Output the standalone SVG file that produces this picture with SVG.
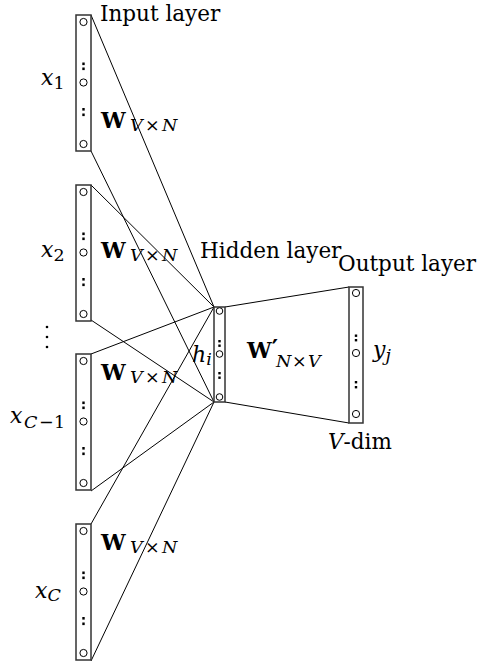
<svg xmlns="http://www.w3.org/2000/svg" width="486" height="664" viewBox="0 0 486 664" font-family="'DejaVu Serif', serif">
<style>
.box{fill:#fff;stroke:#333;stroke-width:1.5}
.c{fill:#fff;stroke:#000;stroke-width:1}
.d{fill:#000}
.ln{stroke:#000;stroke-width:1;fill:none}
text{font-family:"DejaVu Serif","Liberation Serif",serif;fill:#000}
.lab{font-size:21.5px}
.it{font-style:italic}
.W{font-size:22px;font-weight:bold}
.sub{font-size:17.5px}
.m{font-size:22px;font-style:italic}
</style>
<defs>
<g id="vec">
<rect class="box" x="0" y="0" width="15" height="136"/>
<circle class="c" cx="7.5" cy="7" r="3.6"/>
<circle class="c" cx="7.5" cy="67.5" r="3.6"/>
<circle class="c" cx="7.5" cy="129" r="3.6"/>
<rect class="d" x="6.3" y="47.5" width="2.4" height="2.6"/>
<rect class="d" x="6.3" y="52.5" width="2.4" height="2.6"/>
<rect class="d" x="6.3" y="93" width="2.4" height="2.6"/>
<rect class="d" x="6.3" y="98.5" width="2.4" height="2.6"/>
</g>
<g id="wvn">
<text class="W" x="0" y="0">W</text>
<text class="sub" y="3"><tspan class="it" x="29">V</tspan><tspan x="44">×</tspan><tspan class="it" x="61">N</tspan></text>
</g>
</defs>

<g id="connectors">
<line class="ln" x1="91" y1="15" x2="214" y2="307"/>
<line class="ln" x1="91" y1="151" x2="214" y2="402"/>
<line class="ln" x1="91" y1="185" x2="214" y2="307"/>
<line class="ln" x1="91" y1="320" x2="214" y2="402"/>
<line class="ln" x1="91" y1="354" x2="214" y2="307"/>
<line class="ln" x1="91" y1="491" x2="214" y2="402"/>
<line class="ln" x1="91" y1="524" x2="214" y2="307"/>
<line class="ln" x1="91" y1="661" x2="214" y2="402"/>
<line class="ln" x1="225" y1="307" x2="349" y2="287"/>
<line class="ln" x1="225" y1="402" x2="349" y2="423"/>
</g>

<g id="input1">
<use href="#vec" x="76" y="15"/>
<text x="41" y="85"><tspan class="m">x</tspan><tspan class="sub" dy="4">1</tspan></text>
<use href="#wvn" x="101" y="128"/>
<text class="lab" x="100" y="21">Input layer</text>
</g>

<g id="input2">
<use href="#vec" x="76" y="185"/>
<text x="41" y="257"><tspan class="m">x</tspan><tspan class="sub" dy="4">2</tspan></text>
<use href="#wvn" x="101" y="258"/>
</g>

<g id="ellipsis">
<circle class="d" cx="47" cy="327" r="1.3"/>
<circle class="d" cx="47" cy="337" r="1.3"/>
<circle class="d" cx="47" cy="347" r="1.3"/>
</g>

<g id="input3">
<use href="#vec" x="76" y="354"/>
<text x="10" y="423"><tspan class="m">x</tspan><tspan class="sub it" dy="5" x="24">C</tspan><tspan class="sub" x="39">−</tspan><tspan class="sub" x="54">1</tspan></text>
<use href="#wvn" x="101" y="380"/>
</g>

<g id="input4">
<use href="#vec" x="76" y="524"/>
<text x="35" y="598"><tspan class="m">x</tspan><tspan class="sub it" dy="3">C</tspan></text>
<use href="#wvn" x="101" y="550"/>
</g>

<g id="hidden">
<rect class="box" x="214" y="307" width="11" height="95"/>
<circle class="c" cx="219.5" cy="311" r="3.3"/>
<circle class="c" cx="219.5" cy="354" r="3.3"/>
<circle class="c" cx="219.5" cy="397" r="3.3"/>
<rect class="d" x="218.3" y="340" width="2.4" height="2.4"/>
<rect class="d" x="218.3" y="344.5" width="2.4" height="2.4"/>
<rect class="d" x="218.3" y="372" width="2.4" height="2.4"/>
<rect class="d" x="218.3" y="376.5" width="2.4" height="2.4"/>
<text x="192" y="362"><tspan class="m">h</tspan><tspan class="sub it" dy="3">i</tspan></text>
<text class="lab" x="200" y="258">Hidden layer</text>
<text x="247" y="358"><tspan class="W">W</tspan><tspan font-size="24px" font-weight="bold" dy="-1">′</tspan><tspan class="sub it" x="276" dy="10">N</tspan><tspan class="sub" x="292">×</tspan><tspan class="sub it" x="308">V</tspan></text>
</g>

<g id="output">
<rect class="box" x="349" y="287" width="14" height="136"/>
<circle class="c" cx="356" cy="293" r="3.6"/>
<circle class="c" cx="356" cy="353" r="3.6"/>
<circle class="c" cx="356" cy="414" r="3.6"/>
<rect class="d" x="354.8" y="334.5" width="2.4" height="2.4"/>
<rect class="d" x="354.8" y="339" width="2.4" height="2.4"/>
<rect class="d" x="354.8" y="381" width="2.4" height="2.4"/>
<rect class="d" x="354.8" y="386" width="2.4" height="2.4"/>
<text x="373" y="357"><tspan class="m">y</tspan><tspan class="sub it" dy="4">j</tspan></text>
<text class="lab" x="338" y="271">Output layer</text>
<text class="lab" x="328" y="449"><tspan class="it">V</tspan>-dim</text>
</g>
</svg>
